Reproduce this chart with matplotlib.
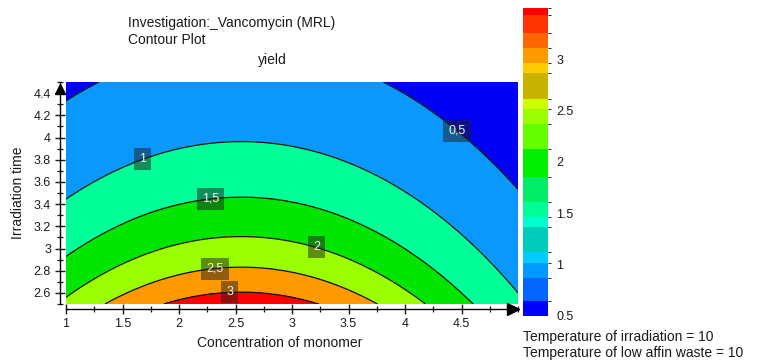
import numpy as np
import matplotlib
matplotlib.use("Agg")
import matplotlib.pyplot as plt
from matplotlib.colors import ListedColormap, BoundaryNorm
from matplotlib.cm import ScalarMappable
from matplotlib.transforms import offset_copy
from matplotlib.ticker import MultipleLocator, FixedLocator

plt.rcParams['font.family'] = ['Liberation Sans', 'DejaVu Sans']

# ---- data ----
# fitted response-surface model: ln(yield) = b0 + b_time*(t - t_ref)
#      + b_conc2*(c - c_center)^2 + b_conc2_time*(c - c_center)^2*(t - t_ref)
conc_range = [1.0, 5.0]
time_range = [2.5, 4.5]
c_center = 2.55
t_ref = 2.5
b0 = 1.185
b_time = -0.81
b_conc2 = -0.185
b_conc2_time = 0.011

levels = [0.5, 1.0, 1.5, 2.0, 2.5, 3.0]
level_labels = ['0,5', '1', '1,5', '2', '2,5', '3']
fill_colors = ['#0000F5', '#0A98FF', '#00FF99', '#00E600', '#9AFF00', '#FF9900', '#FF0000']
label_pos = [(4.45, 4.05), (1.68, 3.79), (2.28, 3.43), (3.21, 2.99), (2.32, 2.80), (2.45, 2.56)]

cb_edges = [0.5, 0.647, 0.874, 1.021, 1.119, 1.363, 1.461, 1.608, 1.852, 2.13,
            2.367, 2.52, 2.618, 2.863, 2.96, 3.107, 3.26, 3.433, 3.5]
cb_colors = ['#0000FF', '#0066FF', '#0099FF', '#00CCFF', '#00CCBB', '#00FFCC',
             '#00FF99', '#00EE66', '#00EE00', '#66FF00', '#99FF00', '#CCFF00',
             '#C8B400', '#FFCC00', '#FF9900', '#FF6600', '#FF3300', '#FF0000']
cb_ticks = [0.5, 1, 1.5, 2, 2.5, 3]
cb_ticklabels = ['0.5', '1', '1.5', '2', '2.5', '3']

x_major = [1, 1.5, 2, 2.5, 3, 3.5, 4, 4.5]
x_labels = ['1', '1.5', '2', '2.5', '3', '3.5', '4', '4.5']
y_major = [2.6, 2.8, 3.0, 3.2, 3.4, 3.6, 3.8, 4.0, 4.2, 4.4]
y_labels = ['2.6', '2.8', '3', '3.2', '3.4', '3.6', '3.8', '4', '4.2', '4.4']

# ---- figure ----
W, H = 769, 360
fig = plt.figure(figsize=(W / 100, H / 100), dpi=100)
fig.patch.set_facecolor('white')

def px(x0, y0, x1, y1):
    return [x0 / W, 1 - y1 / H, (x1 - x0) / W, (y1 - y0) / H]

ax = fig.add_axes(px(66, 82, 518, 304))

c = np.linspace(conc_range[0], conc_range[1], 400)
t = np.linspace(time_range[0], time_range[1], 300)
C, T = np.meshgrid(c, t)
dc2 = (C - c_center) ** 2
dt = T - t_ref
Z = np.exp(b0 + b_time * dt + b_conc2 * dc2 + b_conc2_time * dc2 * dt)

ax.contourf(C, T, Z, levels=[-10] + levels + [100], colors=fill_colors)
cs = ax.contour(C, T, Z, levels=levels, colors='#111111', linewidths=0.9)
labs = ax.clabel(cs, inline=False, manual=label_pos, fontsize=9, colors='#f2f2f2',
                 fmt=dict(zip(levels, level_labels)))
for tx in labs:
    tx.set_rotation(0)
    tx.set_bbox(dict(boxstyle='square,pad=0.4', fc='#202020', alpha=0.5, ec='none'))

ax.set_xlim(conc_range)
ax.set_ylim(time_range)

for s in ['top', 'right']:
    ax.spines[s].set_visible(False)
ax.spines['left'].set_position(('outward', 4.3))
ax.spines['bottom'].set_position(('outward', 3.6))
ax.spines['left'].set_linewidth(1.0)
ax.spines['bottom'].set_linewidth(1.0)

ax.xaxis.set_major_locator(FixedLocator(x_major))
ax.set_xticklabels(x_labels)
ax.xaxis.set_minor_locator(MultipleLocator(0.25))
ax.yaxis.set_major_locator(FixedLocator(y_major))
ax.set_yticklabels(y_labels)
ax.yaxis.set_minor_locator(MultipleLocator(0.1))
ax.tick_params(which='major', direction='inout', length=7, width=1.0,
               labelsize=9, colors='#1a1a1a', pad=3)
ax.tick_params(which='minor', direction='inout', length=4, width=0.9, colors='#1a1a1a')

# arrow heads on the axis lines
tb = offset_copy(ax.transAxes, fig=fig, x=0, y=-3.6, units='points')
ax.plot([0.988], [0], marker='>', ms=8, color='black', transform=tb, clip_on=False)
tl = offset_copy(ax.transAxes, fig=fig, x=-4.3, y=0, units='points')
ax.plot([0], [0.97], marker='^', ms=7, color='black', transform=tl, clip_on=False)

# colorbar
cax = fig.add_axes(px(523, 8, 548, 316))
sm = ScalarMappable(norm=BoundaryNorm(cb_edges, len(cb_colors)), cmap=ListedColormap(cb_colors))
cb = fig.colorbar(sm, cax=cax, spacing='proportional', ticks=cb_ticks)
cb.set_ticklabels(cb_ticklabels)
cb.outline.set_visible(False)
cax.tick_params(length=0, labelsize=9, pad=6, colors='#1a1a1a')

# texts
def ftext(x, y, s, **kw):
    fig.text(x / W, 1 - y / H, s, color='#1a1a1a', **kw)

ftext(128, 23, 'Investigation:_Vancomycin (MRL)', fontsize=10, ha='left', va='center')
ftext(128, 40, 'Contour Plot', fontsize=10, ha='left', va='center')
ftext(272, 60, 'yield', fontsize=10, ha='center', va='center')
ftext(18, 193, 'Irradiation time', fontsize=10, ha='center', va='center', rotation=90)
ftext(280, 343, 'Concentration of monomer', fontsize=10, ha='center', va='center')
ftext(523, 337, 'Temperature of irradiation = 10', fontsize=10, ha='left', va='center')
ftext(523, 353, 'Temperature of low affin waste = 10', fontsize=10, ha='left', va='center')

fig.savefig('out.png', dpi=100)
